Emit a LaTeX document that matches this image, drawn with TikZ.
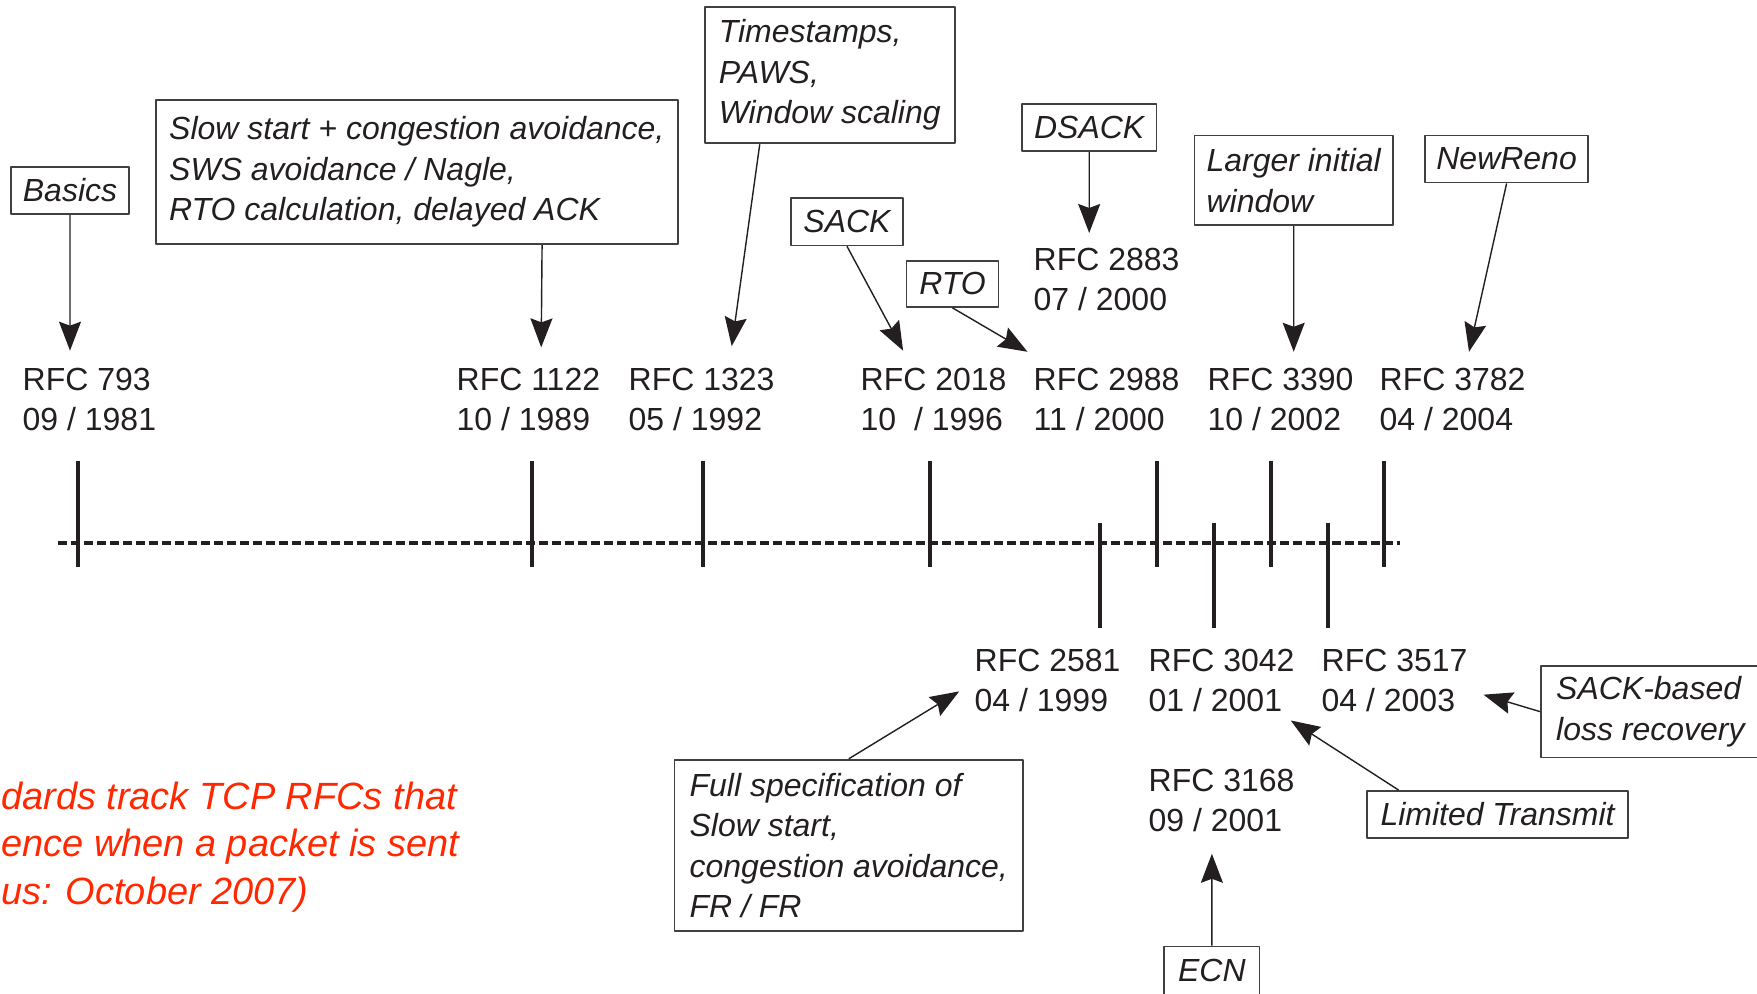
\documentclass[tikz,border=0pt]{standalone}
\usepackage{fontspec}
\setmainfont{Liberation Sans}
\usepackage{tikz}
\usetikzlibrary{arrows.meta,calc,positioning}
\definecolor{rfcred}{RGB}{255,40,0}
\definecolor{rfcgray}{RGB}{35,31,32}
\newcommand\rfcfont{\fontsize{9.1pt}{11.4pt}\selectfont}
\newcommand\notefont{\fontsize{9.1pt}{11.5pt}\selectfont\itshape}
\newcommand\remarkfont{\fontsize{10.8pt}{13.6pt}\selectfont\itshape}

\begin{document}
\begin{tikzpicture}[>={Stealth[length=2.9mm,width=2.2mm,inset=.4mm]},line join=round,
 rfclbl/.style={anchor=north west,inner sep=0pt,align=left,font=\rfcfont,text=rfcgray},
 note/.style={draw=black!75,line width=.5pt,inner sep=0pt,align=left,font=\notefont,text=rfcgray},
 tick/.style={rfcgray,line width=.4mm},
 link/.style={->,line width=.4pt,rfcgray}]
 \useasboundingbox (0,0) rectangle (17.57,9.94);
 % time line
 \draw[rfcgray,line width=.4mm,dash pattern=on .9mm off .4mm]
  (0.58,4.51)--(14.0,4.51);
 \foreach \x in {0.78,5.322,7.026,9.298,11.571,12.705,13.844}{
  \draw[tick] (\x,5.33)--(\x,4.273);
 }
 \foreach \x in {10.999,12.144,13.277}{
  \draw[tick] (\x,4.713)--(\x,3.66);
 }
 % RFCs above the line
 \node[rfclbl] (rfc793) at (0.22,6.266) {RFC 793\\09 / 1981};
 \node[rfclbl] (rfc1122) at (4.56,6.266) {RFC 1122\\10 / 1989};
 \node[rfclbl] (rfc1323) at (6.28,6.266) {RFC 1323\\05 / 1992};
 \node[rfclbl] (rfc2018) at (8.60,6.266) {RFC 2018\\10\ \ / 1996};
 \node[rfclbl] (rfc2988) at (10.33,6.266) {RFC 2988\\11 / 2000};
 \node[rfclbl] (rfc3390) at (12.07,6.266) {RFC 3390\\10 / 2002};
 \node[rfclbl] (rfc3782) at (13.79,6.266) {RFC 3782\\04 / 2004};
 \node[rfclbl] (rfc2883) at (10.33,7.468) {RFC 2883\\07 / 2000};
 % RFCs below the line
 \node[rfclbl] (rfc2581) at (9.74,3.456) {RFC 2581\\04 / 1999};
 \node[rfclbl] (rfc3042) at (11.48,3.456) {RFC 3042\\01 / 2001};
 \node[rfclbl] (rfc3517) at (13.21,3.456) {RFC 3517\\04 / 2003};
 \node[rfclbl] (rfc3168) at (11.48,2.257) {RFC 3168\\09 / 2001};
 % notes
 \node[note,minimum width=1.177cm,minimum height=.47cm] (basics)
  at (0.70,8.035) {Basics};
 \node[note,minimum width=5.222cm,minimum height=1.446cm] (slowstart)
  at (4.168,8.22) {Slow start + congestion avoidance,\\
   SWS avoidance / Nagle,\\RTO calculation, delayed ACK};
 \node[note,minimum width=2.499cm,minimum height=1.367cm] (tstamps)
  at (8.2975,9.1895) {Timestamps,\\PAWS,\\Window scaling};
 \node[note,minimum width=1.121cm,minimum height=.471cm] (sack)
  at (8.47,7.721) {SACK};
 \node[note,minimum width=.919cm,minimum height=.46cm] (rto)
  at (9.525,7.10) {RTO};
 \node[note,minimum width=1.345cm,minimum height=.471cm] (dsack)
  at (10.892,8.662) {DSACK};
 \node[note,minimum width=1.983cm,minimum height=.896cm] (iw)
  at (12.937,8.136) {Larger initial\\window};
 \node[note,minimum width=1.625cm,minimum height=.47cm] (newreno)
  at (15.066,8.349) {NewReno};
 \node[note,minimum width=3.485cm,minimum height=1.714cm] (fullspec)
  at (8.488,1.486) {Full specification of\\Slow start,\\
   congestion avoidance,\\FR / FR};
 \node[note,minimum width=2.61cm,minimum height=.47cm] (limtx)
  at (14.975,1.795) {Limited Transmit};
 \node[note,minimum width=2.193cm,minimum height=.919cm] (sackrec)
  at (16.504,2.824) {SACK-based\\loss recovery};
 \node[note,minimum width=.953cm,minimum height=.48cm] (ecn)
  at (12.119,0.236) {ECN};
 \node[anchor=north west,inner sep=0pt,align=left,font=\remarkfont,
  text=rfcred] (remark) at (0.005,2.13)
  {dards track TCP RFCs that\\ence when a packet is sent\\us: October 2007)};
 % arrows
 \draw[link] (basics.south)
  -- ([shift={(0.48,0.167)}]rfc793.north west);
 \draw[link] ([xshift=-1.367cm]slowstart.south east)
  -- ([shift={(0.852,0.20)}]rfc1122.north west);
 \draw[link] ([xshift=-.70cm]tstamps.south)
  -- ([shift={(1.037,0.212)}]rfc1323.north west);
 \draw[link] (sack.south)
  -- ([shift={(0.431,0.167)}]rfc2018.north west);
 \draw[link] (rto.south)
  -- ([shift={(-0.055,0.156)}]rfc2988.north west);
 \draw[link] (dsack.south)
  -- ([shift={(0.562,0.142)}]rfc2883.north west);
 \draw[link] (iw.south)
  -- ([shift={(0.867,0.156)}]rfc3390.north west);
 \draw[link] (newreno.south)
  -- ([shift={(0.90,0.156)}]rfc3782.north west);
 \draw[link] (fullspec.north)
  -- ([shift={(-0.148,-0.43)}]rfc2581.north west);
 \draw[link] ([xshift=.325cm]limtx.north west)
  -- ([shift={(1.428,-0.721)}]rfc3042.north west);
 \draw[link] (sackrec.west)
  -- ([shift={(1.625,-0.463)}]rfc3517.north west);
 \draw[link] (ecn.north)
  -- ([shift={(0.639,-0.855)}]rfc3168.north west);
\end{tikzpicture}
\end{document}
